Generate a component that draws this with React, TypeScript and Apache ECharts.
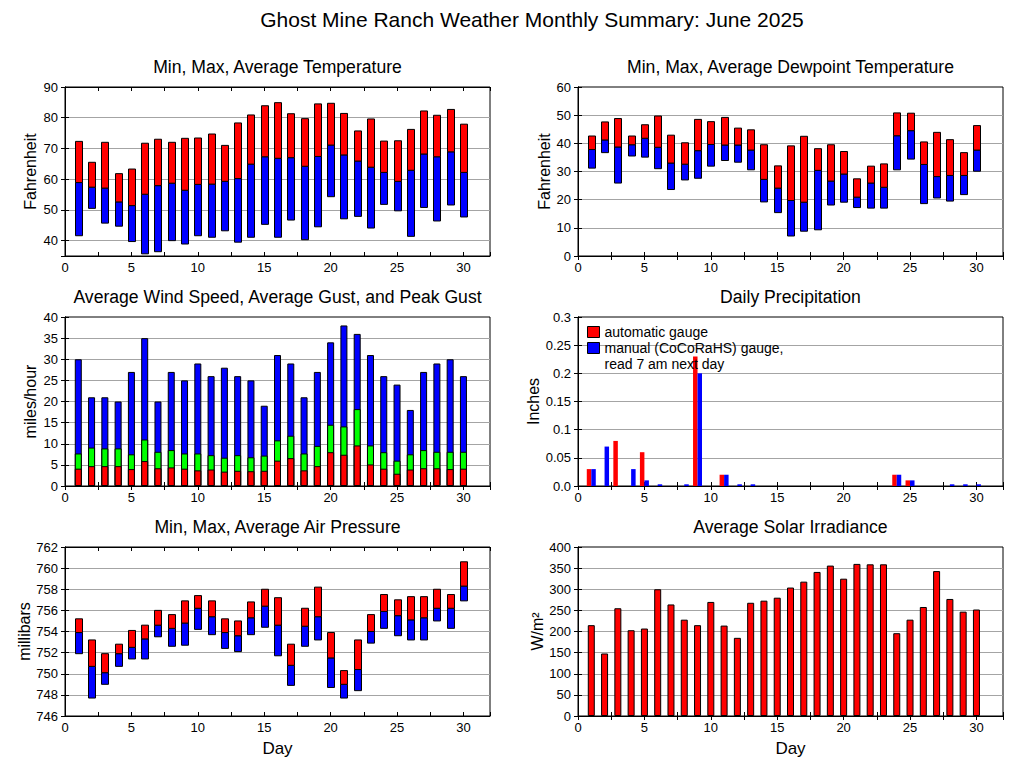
import React, { useEffect, useRef } from "react";
import * as echarts from "echarts";

// ---------------- data ----------------
const days = [1, 2, 3, 4, 5, 6, 7, 8, 9, 10, 11, 12, 13, 14, 15, 16, 17, 18, 19, 20, 21, 22, 23, 24, 25, 26, 27, 28, 29, 30];

const tempMin = [41.6, 50.5, 45.7, 44.7, 39.7, 35.7, 36.4, 40.0, 38.9, 41.6, 41.1, 43.2, 39.5, 41.1, 45.3, 41.1, 46.7, 40.3, 44.5, 54.3, 47.1, 47.9, 44.1, 51.8, 49.7, 41.4, 50.8, 46.4, 51.6, 47.7];
const tempAvg = [58.9, 57.4, 57.1, 52.6, 51.4, 55.1, 57.9, 58.7, 56.4, 58.3, 58.4, 59.3, 60.2, 64.9, 67.3, 66.8, 67.0, 64.2, 67.4, 71.1, 67.9, 65.9, 63.9, 62.2, 59.3, 62.9, 68.2, 67.3, 68.9, 62.2];
const tempMax = [72.3, 65.5, 72.0, 61.8, 63.3, 71.7, 73.0, 72.0, 73.3, 73.4, 74.7, 71.0, 78.3, 80.9, 83.9, 84.9, 81.3, 79.7, 84.5, 84.7, 81.4, 75.7, 79.6, 72.4, 72.5, 76.2, 82.2, 80.8, 82.7, 77.9];

const dewMin = [31.2, 36.7, 25.9, 35.5, 35.1, 31.0, 23.6, 27.0, 27.6, 31.9, 33.9, 33.3, 30.6, 19.2, 15.4, 7.1, 8.8, 9.3, 18.1, 19.1, 17.2, 17.0, 17.0, 30.6, 34.4, 18.6, 20.6, 19.5, 21.8, 30.1];
const dewAvg = [37.8, 41.2, 38.7, 39.5, 41.8, 38.6, 33.0, 32.6, 37.4, 39.6, 39.4, 39.4, 37.6, 27.2, 24.1, 19.7, 19.1, 30.4, 26.6, 29.1, 20.9, 25.9, 24.4, 42.7, 44.5, 32.5, 28.2, 28.6, 28.6, 37.6];
const dewMax = [42.6, 47.6, 48.8, 42.6, 46.6, 49.7, 42.9, 40.2, 48.5, 47.7, 49.2, 45.4, 44.8, 39.5, 32.0, 39.1, 42.5, 38.1, 39.5, 37.1, 27.4, 31.9, 32.7, 50.8, 50.7, 40.5, 43.9, 41.3, 36.7, 46.3];

const windSpeedAvg = [4.1, 4.7, 4.7, 4.7, 4.0, 5.9, 4.2, 4.4, 4.1, 3.7, 3.9, 3.4, 3.6, 3.5, 3.6, 6.0, 6.6, 3.7, 4.7, 8.0, 7.4, 9.6, 5.1, 4.1, 2.9, 3.9, 4.2, 4.2, 4.0, 4.1];
const gustAvg = [7.7, 9.1, 8.9, 8.9, 7.5, 11.0, 8.1, 8.5, 7.7, 7.7, 7.3, 6.7, 7.3, 6.8, 7.2, 10.8, 11.9, 7.7, 9.5, 14.5, 14.1, 18.2, 9.6, 8.0, 6.0, 7.5, 8.5, 8.1, 8.1, 8.1];
const gustPeak = [30, 21, 21, 20, 27, 35, 20, 27, 25, 29, 26, 28, 26, 25, 19, 31, 29, 21, 27, 34, 38, 36, 31, 26, 24, 18, 27, 29, 30, 26];

const precipAuto = [0.03, 0, 0.08, 0, 0.06, 0, 0, 0, 0.23, 0, 0.02, 0, 0, 0, 0, 0, 0, 0, 0, 0, 0, 0, 0, 0.02, 0.01, 0, 0, 0, 0, 0];
const precipManual = [0.03, 0.07, 0, 0.03, 0.01, 0.003, 0, 0.003, 0.2, 0, 0.02, 0.003, 0.003, 0, 0, 0, 0, 0, 0, 0, 0, 0, 0, 0.02, 0.01, 0, 0, 0.003, 0.003, 0.003];

const presMin = [751.9, 747.7, 749.0, 750.7, 751.4, 751.4, 753.5, 752.6, 752.7, 754.2, 753.7, 752.4, 752.1, 753.7, 754.4, 751.7, 748.9, 752.6, 753.2, 748.7, 747.7, 748.4, 752.9, 754.3, 753.6, 753.2, 753.2, 755.0, 754.3, 756.9];
const presAvg = [753.9, 750.7, 750.1, 751.9, 752.5, 753.3, 754.6, 754.3, 754.8, 756.2, 755.4, 753.9, 753.6, 755.3, 756.4, 754.6, 750.8, 754.5, 755.4, 751.5, 749.0, 750.4, 754.0, 755.9, 755.5, 755.1, 755.3, 756.2, 756.2, 758.3];
const presMax = [755.2, 753.2, 751.9, 752.8, 754.1, 754.6, 756.0, 755.6, 756.9, 757.4, 756.9, 755.2, 755.0, 756.8, 758.0, 757.2, 752.8, 756.2, 758.2, 753.9, 750.3, 753.2, 755.6, 757.5, 757.0, 757.3, 757.3, 758.0, 757.5, 760.6];

const solar = [215, 148, 255, 203, 207, 300, 264, 228, 215, 270, 214, 185, 268, 273, 280, 304, 318, 341, 356, 325, 360, 359, 359, 196, 228, 258, 343, 277, 247, 252];

const mainTitle = "Ghost Mine Ranch Weather Monthly Summary: June 2025";
const panelTitles = [
  "Min, Max, Average Temperature",
  "Min, Max, Average Dewpoint Temperature",
  "Average Wind Speed, Average Gust, and Peak Gust",
  "Daily Precipitation",
  "Min, Max, Average Air Pressure",
  "Average Solar Irradiance",
];
const yNames = ["Fahrenheit", "Fahrenheit", "miles/hour", "Inches", "millibars", "W/m²"];
const xName = "Day";
const autoName = "automatic gauge";
const manualName = "manual (CoCoRaHS) gauge,\nread 7 am next day";

// ---------------- layout / style ----------------
const FONT = '"Liberation Sans", Arial, Helvetica, sans-serif';
const RED = "#ff0000";
const BLUE = "#0000ff";
const GREEN = "#00ff00";
const GRID_COLOR = "#a4a4a4";
const PW = 425;
const PH = 169;
const gridPos = [
  { left: 65, top: 87 },
  { left: 578, top: 87 },
  { left: 65, top: 317 },
  { left: 578, top: 317 },
  { left: 65, top: 547 },
  { left: 578, top: 547 },
];
const yScale = [
  { min: 35, max: 90, interval: undefined as number | undefined, fixed: 10 },
  { min: 0, max: 60, interval: 10 },
  { min: 0, max: 40, interval: 5 },
  { min: 0, max: 0.3, interval: 0.05 },
  { min: 746, max: 762, interval: 2 },
  { min: 0, max: 400, interval: 50 },
];
const nameGaps = [27, 25, 27, 36, 27, 30];

function buildOption() {
  const grid = gridPos.map((g) => ({
    left: g.left,
    top: g.top,
    width: PW,
    height: PH,
    show: true,
    backgroundColor: "#fff",
    borderColor: "#000",
    borderWidth: 1,
    containLabel: false,
  }));

  const title: any[] = [
    {
      text: mainTitle,
      left: 532,
      top: 9,
      padding: 0,
      textAlign: "center",
      textStyle: { fontFamily: FONT, fontSize: 21, fontWeight: "normal", color: "#000" },
    },
  ];
  gridPos.forEach((g, i) => {
    title.push({
      text: panelTitles[i],
      left: g.left + PW / 2,
      top: g.top - 29,
      padding: 0,
      textAlign: "center",
      textStyle: { fontFamily: FONT, fontSize: 17.6, fontWeight: "normal", color: "#000" },
    });
  });

  const xAxis: any[] = [];
  const yAxis: any[] = [];
  gridPos.forEach((g, i) => {
    const xBase = {
      type: "value",
      gridIndex: i,
      min: 0,
      max: 32,
      interval: 2.5,
      axisLine: { show: true, lineStyle: { color: "#000", width: 1 } },
      axisTick: { show: true, inside: true, length: 4, lineStyle: { color: "#000" } },
      splitLine: { show: false },
      axisPointer: { show: false },
    };
    xAxis.push({
      ...xBase,
      position: "bottom",
      name: i >= 4 ? xName : "",
      nameLocation: "middle",
      nameGap: 24,
      nameTextStyle: { fontFamily: FONT, fontSize: 17, color: "#000", verticalAlign: "top" },
      axisLabel: {
        show: true,
        margin: 5,
        fontFamily: FONT,
        fontSize: 13,
        color: "#000",
        formatter: (v: number) => (v % 5 === 0 && v <= 30 ? String(v) : ""),
      },
    });
    xAxis.push({ ...xBase, position: "top", axisLabel: { show: false } });

    const s = yScale[i];
    const yBase: any = {
      type: "value",
      gridIndex: i,
      min: s.min,
      max: s.max,
      axisLine: { show: true, lineStyle: { color: "#000", width: 1 } },
      axisTick: { show: true, inside: true, length: 4, lineStyle: { color: "#000" } },
      axisPointer: { show: false },
    };
    if (s.interval !== undefined) {
      yBase.interval = s.interval;
    } else {
      yBase.minInterval = (s as any).fixed;
      yBase.maxInterval = (s as any).fixed;
    }
    let fmt: any = undefined;
    if (i === 0) fmt = (v: number) => (v < 40 ? "" : String(v));
    if (i === 3) fmt = (v: number) => (v === 0 ? "0.0" : String(Math.round(v * 100) / 100));
    yAxis.push({
      ...yBase,
      position: "left",
      name: yNames[i],
      nameLocation: "middle",
      nameGap: nameGaps[i],
      nameTextStyle: { fontFamily: FONT, fontSize: 16, color: "#000" },
      axisLabel: { show: true, margin: 7, fontFamily: FONT, fontSize: 13, color: "#000", formatter: fmt },
      splitLine: {
        show: true,
        showMinLine: false,
        showMaxLine: false,
        lineStyle: { color: GRID_COLOR, width: 1 },
      },
    });
    yAxis.push({ ...yBase, position: "right", axisLabel: { show: false }, splitLine: { show: false } });
  });

  const rangeSeries = (name: string, panel: number, lo: number[], hi: number[], color: string) => ({
    type: "custom",
    name,
    xAxisIndex: panel * 2,
    yAxisIndex: panel * 2,
    data: days.map((d, k) => [d, lo[k], hi[k]]),
    encode: { x: 0, y: [1, 2] },
    clip: true,
    silent: true,
    renderItem: (_params: any, api: any) => {
      const x = api.value(0);
      const a = api.coord([x, api.value(2)]);
      const b = api.coord([x, api.value(1)]);
      const w = 7;
      return {
        type: "rect",
        shape: { x: Math.round(a[0] - w / 2) + 0.5, y: a[1], width: w, height: b[1] - a[1] },
        style: { fill: color, stroke: "#000", lineWidth: 1 },
      };
    },
  });

  const barSeries = (name: string, panel: number, vals: number[], color: string, extra: any = {}) => ({
    type: "bar",
    name,
    xAxisIndex: panel * 2,
    yAxisIndex: panel * 2,
    data: days.map((d, k) => [d, vals[k]]),
    itemStyle: { color, borderColor: "#000", borderWidth: 1 },
    silent: true,
    ...extra,
  });

  const series: any[] = [
    rangeSeries("Min-Avg Temperature", 0, tempMin, tempAvg, BLUE),
    rangeSeries("Avg-Max Temperature", 0, tempAvg, tempMax, RED),
    rangeSeries("Min-Avg Dewpoint", 1, dewMin, dewAvg, BLUE),
    rangeSeries("Avg-Max Dewpoint", 1, dewAvg, dewMax, RED),
    barSeries("Peak Gust", 2, gustPeak, BLUE, { barWidth: 7, barGap: "-100%" }),
    barSeries("Average Gust", 2, gustAvg, GREEN, { barWidth: 7, barGap: "-100%" }),
    barSeries("Average Wind Speed", 2, windSpeedAvg, RED, { barWidth: 7, barGap: "-100%" }),
    barSeries(autoName, 3, precipAuto, RED, { barWidth: 4.5, barGap: "0%", itemStyle: { color: RED, borderWidth: 0 } }),
    barSeries(manualName, 3, precipManual, BLUE, { barWidth: 4.5, barGap: "0%", itemStyle: { color: BLUE, borderWidth: 0 } }),
    rangeSeries("Min-Avg Pressure", 4, presMin, presAvg, BLUE),
    rangeSeries("Avg-Max Pressure", 4, presAvg, presMax, RED),
    barSeries("Average Solar Irradiance", 5, solar, RED, { barWidth: 7 }),
  ];

  return {
    animation: false,
    backgroundColor: "#fff",
    textStyle: { fontFamily: FONT },
    title,
    grid,
    xAxis,
    yAxis,
    legend: {
      data: [{ name: autoName }, { name: manualName }],
      // a blank first line keeps the first text line level with the icon
      formatter: (name: string) => (name === manualName ? " \n" + name : name),
      orient: "vertical",
      left: 587,
      top: 324,
      padding: 0,
      itemWidth: 12,
      itemHeight: 11,
      itemGap: -16,
      icon: "rect",
      selectedMode: false,
      itemStyle: { borderColor: "#000", borderWidth: 1 },
      textStyle: { fontFamily: FONT, fontSize: 14, lineHeight: 16, color: "#000" },
    },
    series,
  };
}

export default function App() {
  const ref = useRef<HTMLDivElement>(null);
  useEffect(() => {
    if (!ref.current) return;
    const chart = echarts.init(ref.current, null, { renderer: "svg" });
    chart.setOption(buildOption() as any);
    return () => chart.dispose();
  }, []);
  return (
    <div
      ref={ref}
      style={{ position: "fixed", left: 0, top: 0, width: 1027, height: 772, background: "#fff" }}
    />
  );
}
